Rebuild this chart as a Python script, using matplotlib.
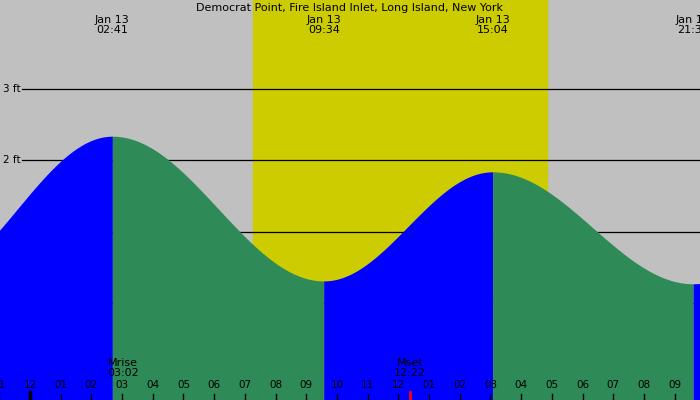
import numpy as np
import matplotlib
matplotlib.use("Agg")
import matplotlib.pyplot as plt

title = "Democrat Point, Fire Island Inlet, Long Island, New York"
ext_hours = [-3.5, 2.683, 9.567, 15.067, 21.6, 27.8]
ext_heights = [0.30, 2.34, 0.31, 1.84, 0.27, 1.9]
ext_labels = [None, "Jan 13\n02:41", "Jan 13\n09:34", "Jan 13\n15:04", "Jan 13\n21:36", None]
day_start, day_end = 7.26, 16.84
moon_events = [(3.03, "Mrise\n03:02", None), (12.37, "Mset\n12:22", "red")]
tick_hours = list(range(-1, 22))
tick_labels = ["11", "12"] + ["%02d" % h for h in range(1, 12)] + ["12"] + ["%02d" % h for h in range(1, 10)]
ft_levels = [0, 1, 2, 3]

x0 = -0.977
x1 = x0 + 700 / 30.7
y0, y1 = -1.36, 4.25

fig = plt.figure(figsize=(7, 4), dpi=100)
ax = fig.add_axes([0, 0, 1, 1])
ax.set_xlim(x0, x1)
ax.set_ylim(y0, y1)
ax.axis("off")
ax.add_patch(plt.Rectangle((x0, y0), x1 - x0, y1 - y0, color="#c0c0c0", zorder=0))
ax.axvspan(day_start, day_end, color="#cccc00", zorder=0.5)

for lv in ft_levels:
    ax.plot([x0 + 22 / 30.7, x1], [lv, lv], color="black", lw=0.9, zorder=1)
    ax.text(x0 + 3 / 30.7, lv, "%d ft" % lv, fontsize=7.5, va="center", ha="left", zorder=1)

for i in range(len(ext_hours) - 1):
    ta, tb = ext_hours[i], ext_hours[i + 1]
    ha_, hb_ = ext_heights[i], ext_heights[i + 1]
    t = np.linspace(ta, tb, 200)
    f = (t - ta) / (tb - ta)
    h = ha_ + (hb_ - ha_) * (1 - np.cos(np.pi * f)) / 2
    col = "#0000ff" if hb_ > ha_ else "#2e8b57"
    ax.fill_between(t, y0, h, color=col, lw=0, zorder=2)

for t, lab in zip(ext_hours, ext_labels):
    if lab:
        ax.text(t, y1 - 25 / 71.3, lab, fontsize=8, ha="center", va="center", linespacing=1.0, zorder=5)
ax.text((x0 + x1) / 2, y1 - 8 / 71.3, title, fontsize=8, ha="center", va="center", zorder=6,
        bbox=dict(facecolor="none", edgecolor="none", pad=0))

for t, lab in zip(tick_hours, tick_labels):
    ax.text(t, y0 + 15 / 71.3, lab, fontsize=7.5, ha="center", va="center", zorder=5)
    ax.plot([t, t], [y0, y0 + 6 / 71.3], color="black", lw=1, zorder=5)

for t, lab, c in moon_events:
    ax.text(t, y0 + 32 / 71.3, lab, fontsize=8, ha="center", va="center", linespacing=1.0, zorder=5)
    if c:
        ax.plot([t, t], [y0, y0 + 8 / 71.3], color=c, lw=2, zorder=6)
ax.plot([0, 0], [y0, y0 + 8 / 71.3], color="black", lw=2.5, zorder=6)

fig.savefig("out.png", dpi=100)
